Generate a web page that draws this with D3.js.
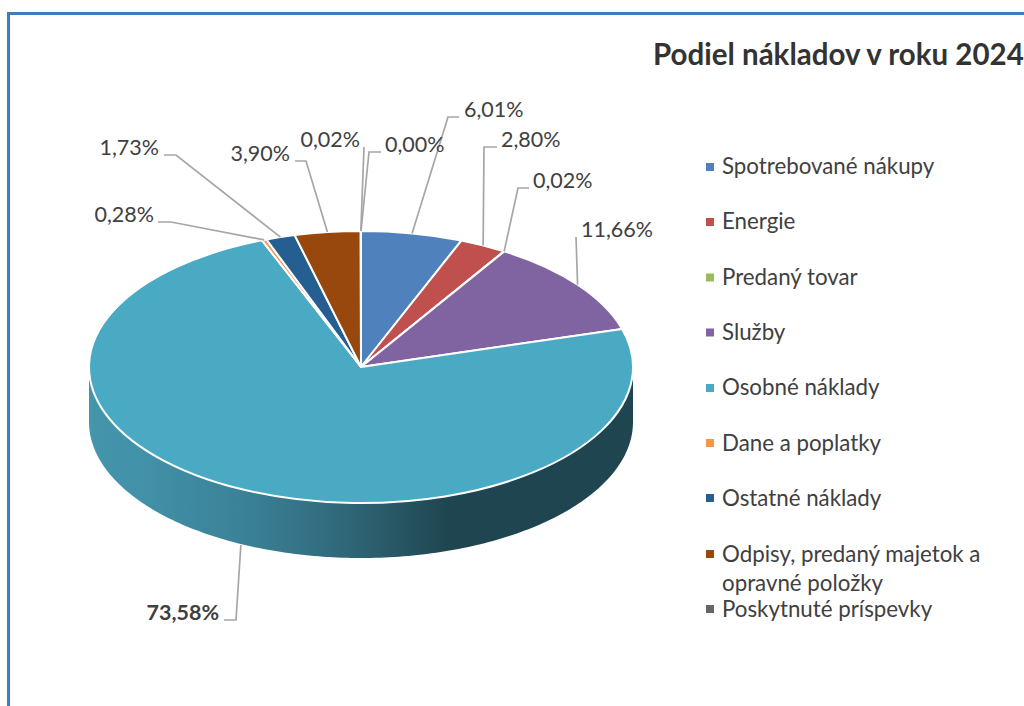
<!DOCTYPE html>
<html lang="sk">
<head>
<meta charset="utf-8">
<script src="https://cdnjs.cloudflare.com/ajax/libs/d3/7.8.5/d3.min.js"></script>
<style>
html,body{margin:0;padding:0;background:#fff;overflow:hidden}
svg{display:block}
text{font-family:Lato,"Open Sans",sans-serif;fill:#404040}
</style>
</head>
<body>
<svg id="chart" width="1024" height="706"></svg>
<script>
// ---- data ----
const title = "Podiel nákladov v roku 2024";
const categories = ["Spotrebované nákupy","Energie","Predaný tovar","Služby","Osobné náklady","Dane a poplatky","Ostatné náklady","Odpisy, predaný majetok a|opravné položky","Poskytnuté príspevky"];
const values = [6.01,2.80,0.02,11.66,73.58,0.28,1.73,3.90,0.02];
const colors = ["#4f81bd","#c0504d","#9bbb59","#8064a2","#4aaac4","#f79646","#255e91","#98480c","#666666"];
const zeroLabel = "0,00%";

// ---- layout (not data) ----
const W = 1024, H = 706;
const cx = 361, cy = 367, rx = 272, ry = 136, depth = 55;
const labelLayout = [
  {ex:448,ey:117,hx:459,tx:464,a:"start",ty:117},
  {ex:484,ey:147,hx:497,tx:501,a:"start",ty:147},
  {ex:518,ey:188,hx:529,tx:533,a:"start",ty:188},
  {ex:576,ey:237,hx:576,tx:581,a:"start",ty:237},
  {ex:236,ey:620,hx:224,tx:219,a:"end",ty:620,bold:true,bottom:true},
  {ex:171,ey:222,hx:158,tx:154,a:"end",ty:222},
  {ex:176,ey:155,hx:164,tx:159,a:"end",ty:155},
  {ex:306,ey:161,hx:295,tx:290,a:"end",ty:161},
  {ex:364,ey:147,hx:364,tx:360,a:"end",ty:147}
];
const zeroLayout = {ex:369,ey:152,hx:381,tx:385,a:"start",ty:152};
const legendY = [167,222,277.5,332.5,388,443,498,554,609];
const legendBase = [174,229,285,340,395,451,506,562,617];

const svg = d3.select("#chart");
const fontLabel = 21.5, fontLegend = 22.3, fontTitle = 29.5;

// frame
svg.append("path").attr("d",`M8.5 ${H+5}V13.5H${W+5}`).attr("fill","none").attr("stroke","#3b7dbf").attr("stroke-width",3);

// title
svg.append("text").attr("x",653).attr("y",65).attr("font-size",fontTitle).attr("font-weight",700).style("fill","#333").text(title);

// pie geometry
const pie = d3.pie().value(d=>d).sort(null);
const arcs = pie(values);
const arc = d3.arc().innerRadius(0).outerRadius(1);
const sx = d3.scaleLinear().domain([-1,1]).range([cx-rx,cx+rx]);
const sy = d3.scaleLinear().domain([-1,1]).range([cy-ry,cy+ry]);
const pt = (t,dy=0)=>[sx(Math.sin(t)),sy(-Math.cos(t))+dy];

// side wall
const defs = svg.append("defs");
const grad = defs.append("linearGradient").attr("id","wall").attr("gradientUnits","userSpaceOnUse")
  .attr("x1",cx-rx).attr("x2",cx+rx).attr("y1",0).attr("y2",0);
[[0,"#4496ad"],[0.1,"#4191a8"],[0.28,"#3b8297"],[0.42,"#336f83"],[0.53,"#2b5d6c"],[0.66,"#1f4650"],[1,"#1f4650"]]
  .forEach(([o,c])=>grad.append("stop").attr("offset",o).attr("stop-color",c));
const frontAngles = d3.range(0,181).map(d=>Math.PI/2+d*Math.PI/180);
const line = d3.line();
const wallPts = frontAngles.map(t=>pt(t)).concat(frontAngles.slice().reverse().map(t=>pt(t,depth)));
svg.append("path").attr("d",line(wallPts)+"Z").attr("fill","url(#wall)");

// top slices
svg.append("g").attr("transform",`translate(${cx},${cy}) scale(${rx},${ry})`)
  .selectAll("path").data(arcs).join("path")
  .attr("d",arc).attr("fill",(d,i)=>colors[i])
  .attr("stroke","#fff").attr("stroke-width",2).attr("stroke-linejoin","round")
  .attr("vector-effect","non-scaling-stroke");

// leaders + labels
const fmt = v=>v.toFixed(2).replace(".",",")+"%";
const gL = svg.append("g");
function leader(start,l,text){
  const pts=[start,[l.ex,l.ey]];
  if(l.hx!==l.ex) pts.push([l.hx,l.ey]);
  gL.append("path").attr("d",line(pts)).attr("fill","none").attr("stroke","#a6a6a6").attr("stroke-width",1.7);
  gL.append("text").attr("x",l.tx).attr("y",l.ty).attr("text-anchor",l.a)
    .attr("font-size",fontLabel).attr("font-weight",l.bold?700:400).text(text);
}
arcs.forEach((d,i)=>{
  const l=labelLayout[i], t=(d.startAngle+d.endAngle)/2;
  leader(pt(t,l.bottom?depth+1:0),l,fmt(d.data));
});
leader(pt(0),zeroLayout,zeroLabel);

// legend
const gLeg = svg.append("g");
categories.forEach((c,i)=>{
  gLeg.append("rect").attr("x",706).attr("y",legendY[i]-4).attr("width",8).attr("height",8).attr("fill",colors[i]);
  c.split("|").forEach((s,j)=>{
    gLeg.append("text").attr("x",722).attr("y",legendBase[i]+j*29).attr("font-size",fontLegend).text(s);
  });
});
</script>
</body>
</html>
